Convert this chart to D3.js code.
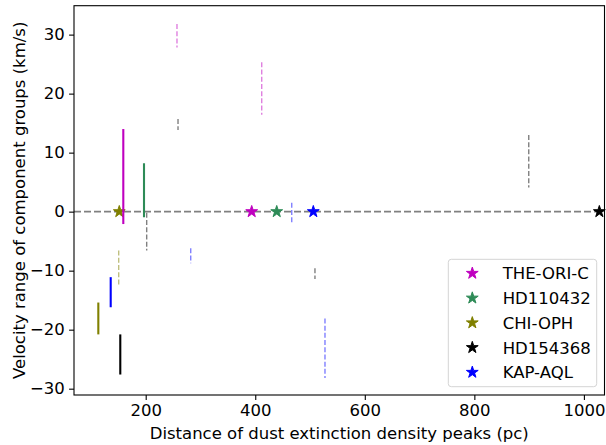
<!DOCTYPE html>
<html>
<head>
<meta charset="utf-8">
<script src="https://cdn.jsdelivr.net/npm/d3@7"></script>
<style>
  body { margin: 0; background: #fff; }
  text { font-family: "DejaVu Sans", sans-serif; }
</style>
</head>
<body>
<svg id="chart" width="606" height="445"></svg>
<script>
// Background stars: name, distance (pc), colour
const starNames = ["THE-ORI-C", "HD110432", "CHI-OPH", "HD154368", "KAP-AQL"];
const starDistances = [393.5, 439.2, 151.8, 1028.2, 506.0];
const starColors = ["#bf00bf", "#2e8b57", "#808000", "#000000", "#0000ff"];

// Main component groups (solid): peak distance, velocity low / high, star index
const solidDist = [159.1, 196.9, 113.5, 153.6, 136.1];
const solidLow  = [-2.1, -0.95, -20.8, -27.6, -16.2];
const solidHigh = [14.0, 8.2, -15.4, -20.8, -11.1];
const solidStar = [0, 1, 2, 3, 4];

// Secondary component groups (dashed)
const dashDist = [257.1, 411.8, 259.0, 201.8, 899.3, 509.0, 150.7, 282.2, 466.6, 527.3];
const dashLow  = [27.8, 16.4, 13.85, -6.6, 4.1, -11.4, -12.7, -8.75, -2.1, -28.2];
const dashHigh = [31.8, 25.3, 15.7, -0.2, 13.0, -9.6, -6.6, -6.2, 1.5, -18.1];
const dashStar = [0, 0, 3, 3, 3, 3, 2, 4, 4, 4];

const xTicks = [200, 400, 600, 800, 1000];
const yTicks = [-30, -20, -10, 0, 10, 20, 30];

const xLabel = "Distance of dust extinction density peaks (pc)";
const yLabel = "Velocity range of component groups (km/s)";

const plot = { left: 74, right: 604.5, top: 5.7, bottom: 395 };
const fontSize = 16.5;

const svg = d3.select("#chart");

const x = d3.scaleLinear().domain([69.1, 1037.6]).range([plot.left, plot.right]);
const y = d3.scaleLinear().domain([-31.07, 34.9]).range([plot.bottom, plot.top]);

// faded version of a series colour (alpha 0.5 over white)
function faded(c) {
  const rgb = d3.rgb(c);
  return d3.rgb((rgb.r + 255) / 2, (rgb.g + 255) / 2, (rgb.b + 255) / 2).formatHex();
}

// five-pointed star path centred at 0,0
function starPath(R) {
  const r = R * 0.381966;
  const pts = [];
  for (let i = 0; i < 10; i++) {
    const a = -Math.PI / 2 + i * Math.PI / 5;
    const rad = i % 2 === 0 ? R : r;
    pts.push([rad * Math.cos(a), rad * Math.sin(a)]);
  }
  return "M" + pts.map(p => p[0].toFixed(2) + "," + p[1].toFixed(2)).join("L") + "Z";
}
const starD = starPath(6.2);

// zero-velocity reference line
svg.append("line")
  .attr("x1", plot.left).attr("x2", plot.right)
  .attr("y1", y(0)).attr("y2", y(0))
  .attr("stroke", "#808080").attr("stroke-width", 1.8)
  .attr("stroke-dasharray", "7,3");

// stars on the zero line
svg.append("g").selectAll("path")
  .data(starNames.map((n, i) => i))
  .join("path")
  .attr("d", starD)
  .attr("transform", i => `translate(${x(starDistances[i])},${y(0)})`)
  .attr("fill", i => starColors[i])
  .attr("stroke", i => starColors[i])
  .attr("stroke-width", 1);

// solid velocity ranges
svg.append("g").selectAll("line")
  .data(solidDist.map((d, i) => i))
  .join("line")
  .attr("x1", i => x(solidDist[i])).attr("x2", i => x(solidDist[i]))
  .attr("y1", i => y(solidLow[i])).attr("y2", i => y(solidHigh[i]))
  .attr("stroke", i => starColors[solidStar[i]])
  .attr("stroke-width", 2.1);

// dashed velocity ranges
svg.append("g").selectAll("line")
  .data(dashDist.map((d, i) => i))
  .join("line")
  .attr("x1", i => x(dashDist[i])).attr("x2", i => x(dashDist[i]))
  .attr("y1", i => y(dashHigh[i])).attr("y2", i => y(dashLow[i]))
  .attr("stroke", i => faded(starColors[dashStar[i]]))
  .attr("stroke-width", 1.4)
  .attr("stroke-dasharray", "5,2.2");

// axes
const xAxis = svg.append("g")
  .attr("transform", `translate(0,${plot.bottom})`)
  .call(d3.axisBottom(x).tickValues(xTicks).tickFormat(d3.format("d"))
    .tickSize(4.9).tickPadding(4.4).tickSizeOuter(0));
const yAxis = svg.append("g")
  .attr("transform", `translate(${plot.left},0)`)
  .call(d3.axisLeft(y).tickValues(yTicks).tickSize(4.9).tickPadding(4.4).tickSizeOuter(0));
[xAxis, yAxis].forEach(g => {
  g.select(".domain").remove();
  g.selectAll("line").attr("stroke", "#000").attr("stroke-width", 1.1);
  g.selectAll("text").attr("font-size", fontSize).attr("fill", "#000")
    .attr("font-family", "DejaVu Sans, sans-serif");
});

// frame
svg.append("rect")
  .attr("x", plot.left).attr("y", plot.top)
  .attr("width", plot.right - plot.left).attr("height", plot.bottom - plot.top)
  .attr("fill", "none").attr("stroke", "#000").attr("stroke-width", 1.1);

// axis titles
svg.append("text")
  .attr("x", (plot.left + plot.right) / 2).attr("y", 439)
  .attr("text-anchor", "middle").attr("font-size", fontSize)
  .text(xLabel);
svg.append("text")
  .attr("transform", `translate(25,${(plot.top + plot.bottom) / 2}) rotate(-90)`)
  .attr("text-anchor", "middle").attr("font-size", fontSize)
  .text(yLabel);

// legend
const legend = svg.append("g");
legend.append("rect")
  .attr("x", 448.3).attr("y", 259.3).attr("width", 148.4).attr("height", 127.4)
  .attr("rx", 3).attr("fill", "#fff").attr("fill-opacity", 0.8)
  .attr("stroke", "#d4d4d4").attr("stroke-width", 1);
const rows = legend.selectAll("g.row")
  .data(starNames.map((n, i) => i))
  .join("g")
  .attr("class", "row")
  .attr("transform", i => `translate(0,${273.3 + i * 24.75})`);
rows.append("path")
  .attr("d", starD)
  .attr("transform", "translate(472.3,0)")
  .attr("fill", i => starColors[i])
  .attr("stroke", i => starColors[i])
  .attr("stroke-width", 1);
rows.append("text")
  .attr("x", 502.7).attr("dy", "0.36em")
  .attr("font-size", fontSize)
  .text(i => starNames[i]);
</script>
</body>
</html>
